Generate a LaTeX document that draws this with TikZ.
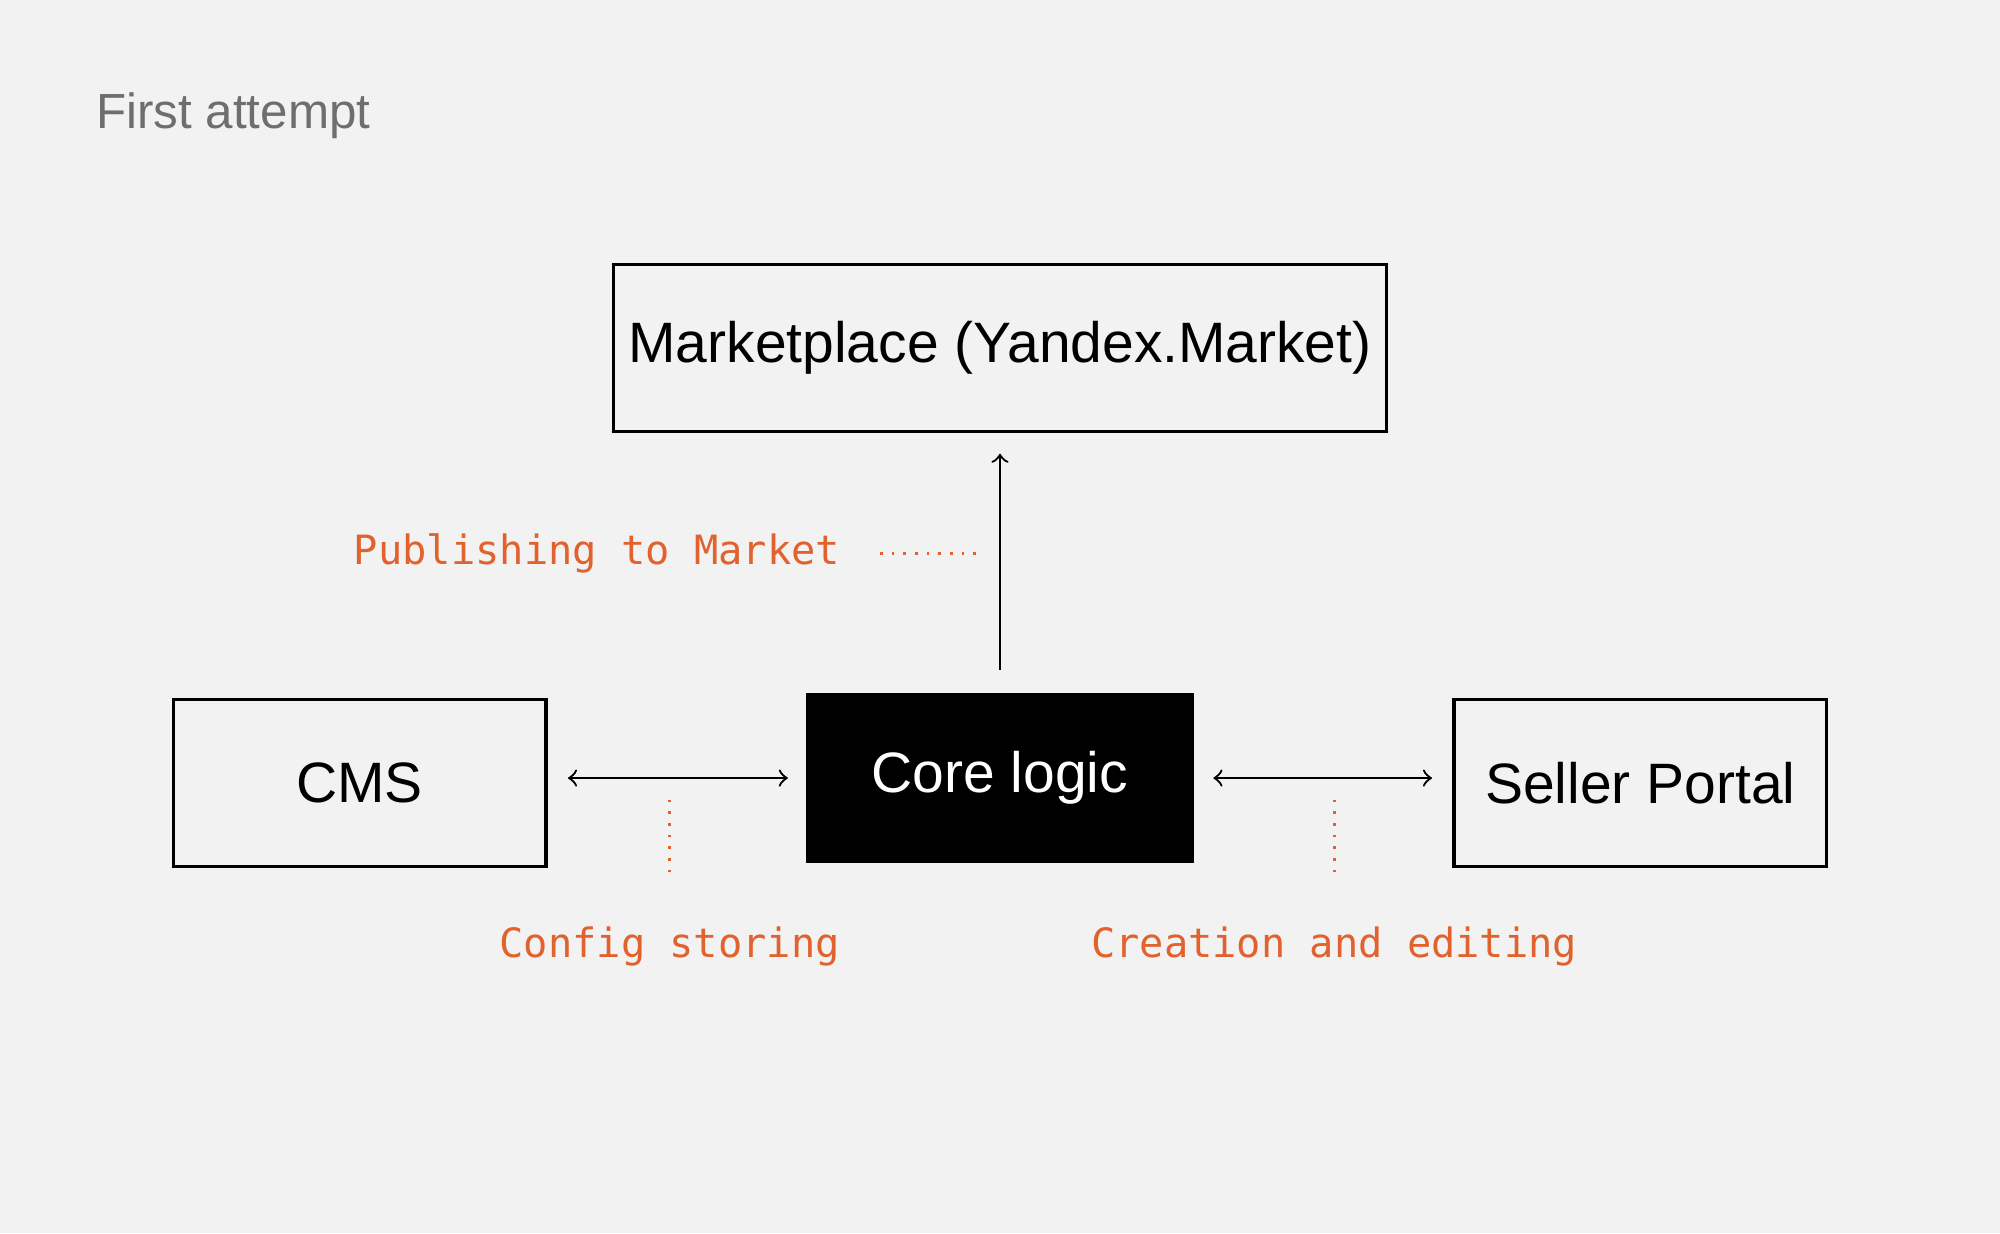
\documentclass[tikz,border=0pt]{standalone}
\usepackage{fontspec}
\setmainfont{Liberation Sans}
\setmonofont{DejaVu Sans Mono}
\usetikzlibrary{positioning}
\definecolor{bgcol}{HTML}{F2F2F2}
\definecolor{notecol}{HTML}{E2622E}
\definecolor{titlecol}{HTML}{6E6E6E}
\begin{document}
\begin{tikzpicture}[x=0.01cm,y=-0.01cm,
    box/.style={draw=black,line width=0.7pt,minimum width=2.92cm,minimum height=1.31cm,font=\fontsize{12.7}{14}\selectfont},
    link/.style={<->,>=to,line width=0.5pt},
    note/.style={text=notecol,font=\ttfamily\fontsize{9}{11}\selectfont},
    guide/.style={draw=notecol,dotted,line width=0.6pt}]
        % Background
        \fill[bgcol] (0,0) rectangle (1568,967);
        \useasboundingbox (0,0) rectangle (1568,967);

        % Title
        \node[anchor=west,text=titlecol,font=\fontsize{11}{13}\selectfont] (title) at (63,91) {First attempt};

        % Boxes
        \node[box,minimum width=5.86cm] (market) at (784,273) {Marketplace (Yandex.Market)};
        \node[box,fill=black,text=white,minimum width=3.02cm] (core) at (784,610) {Core logic};
        \node[box] (cms) at (282,614) {CMS};
        \node[box] (seller) at (1286,614) {Seller Portal};

        % Connectors
        \draw[->,>=to,line width=0.5pt,shorten <=0.18cm,shorten >=0.16cm] (core) -- (market);
        \draw[link,shorten <=0.16cm,shorten >=0.14cm] (cms.east |- core) -- (core.west);
        \draw[link,shorten <=0.15cm,shorten >=0.16cm] (core.east) -- (seller.west |- core);

        % Notes
        \node[note,anchor=east] (publish) at (671,434) {Publishing to Market};
        \coordinate (pubend) at (768,434);
        \draw[guide] ([xshift=0.19cm]publish.east) -- (pubend);

        \node[note] (config) at (525,742) {Config storing};
        \coordinate (cfgtop) at (525,627);
        \draw[guide] (cfgtop) -- ([yshift=0.26cm]config.north);

        \node[note] (create) at (1046,742) {Creation and editing};
        \coordinate (crttop) at (1046,627);
        \draw[guide] (crttop) -- ([yshift=0.26cm]create.north);
      \end{tikzpicture}
\end{document}
